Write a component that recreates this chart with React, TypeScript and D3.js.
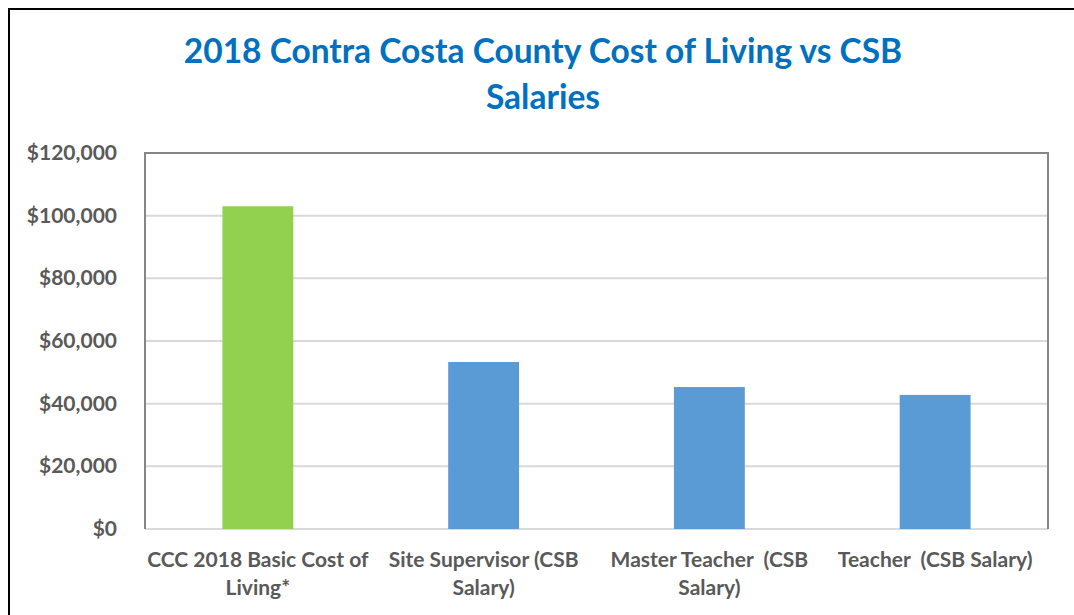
import React from "react";
import * as d3 from "d3";

const categories = [
  "CCC 2018 Basic Cost of Living*",
  "Site Supervisor (CSB Salary)",
  "Master Teacher  (CSB Salary)",
  "Teacher  (CSB Salary)",
];
const categoryLines = [
  ["CCC 2018 Basic Cost of", "Living*"],
  ["Site Supervisor (CSB", "Salary)"],
  ["Master Teacher  (CSB", "Salary)"],
  ["Teacher  (CSB Salary)"],
];
const values = [103000, 53300, 45300, 42800];
const barColors = ["#92D050", "#5B9BD5", "#5B9BD5", "#5B9BD5"];
const yTicks = [0, 20000, 40000, 60000, 80000, 100000, 120000];
const titleLines = ["2018 Contra Costa County Cost of Living vs CSB", "Salaries"];

export default function App() {
  const W = 1074;
  const H = 615;
  const left = 145;
  const right = 1048;
  const top = 153;
  const bottom = 529;

  const x = d3
    .scaleBand<string>()
    .domain(categories)
    .range([left, right])
    .paddingInner(0.686)
    .paddingOuter(0.343);
  const y = d3.scaleLinear().domain([0, 120000]).range([bottom, top]);
  const fmt = (v: number) => "$" + d3.format(",")(v);

  const font = "Lato, 'Open Sans', sans-serif";

  return (
    <svg
      width={W}
      height={H}
      style={{ position: "absolute", left: 0, top: 0, background: "#fff" }}
      fontFamily={font}
    >
      <rect x={0} y={0} width={W} height={H} fill="#fff" />
      {/* outer frame */}
      <rect x={9} y={9} width={W + 20} height={H + 20} fill="none" stroke="#000" strokeWidth={2} />

      {/* title */}
      {titleLines.map((t, i) => (
        <text
          key={i}
          x={543}
          y={63 + i * 46}
          textAnchor="middle"
          fill="#0070C0"
          fontWeight="bold"
          fontSize={33.5}
        >
          {t}
        </text>
      ))}

      {/* gridlines */}
      {yTicks.map((t) => (
        <line
          key={t}
          x1={left}
          x2={right}
          y1={y(t)}
          y2={y(t)}
          stroke="#D9D9D9"
          strokeWidth={2}
        />
      ))}

      {/* bars */}
      {categories.map((c, i) => (
        <rect
          key={c}
          x={x(c)}
          y={y(values[i])}
          width={x.bandwidth()}
          height={y(0) - y(values[i])}
          fill={barColors[i]}
        />
      ))}

      {/* plot border (left, top, right) */}
      <path
        d={`M${left},${bottom} V${top} H${right} V${bottom}`}
        fill="none"
        stroke="#868686"
        strokeWidth={2}
      />

      {/* y tick labels */}
      {yTicks.map((t) => (
        <text
          key={t}
          x={117}
          y={y(t) + 7}
          textAnchor="end"
          fill="#595959"
          fontWeight="bold"
          fontSize={21}
        >
          {fmt(t)}
        </text>
      ))}

      {/* x labels */}
      {categories.map((c, i) => (
        <text
          key={c}
          textAnchor="middle"
          fill="#595959"
          fontWeight="bold"
          fontSize={21}
          style={{ whiteSpace: "pre" }}
        >
          {categoryLines[i].map((ln, j) => (
            <tspan key={j} x={(x(c) as number) + x.bandwidth() / 2} y={567 + j * 28}>
              {ln}
            </tspan>
          ))}
        </text>
      ))}
    </svg>
  );
}
